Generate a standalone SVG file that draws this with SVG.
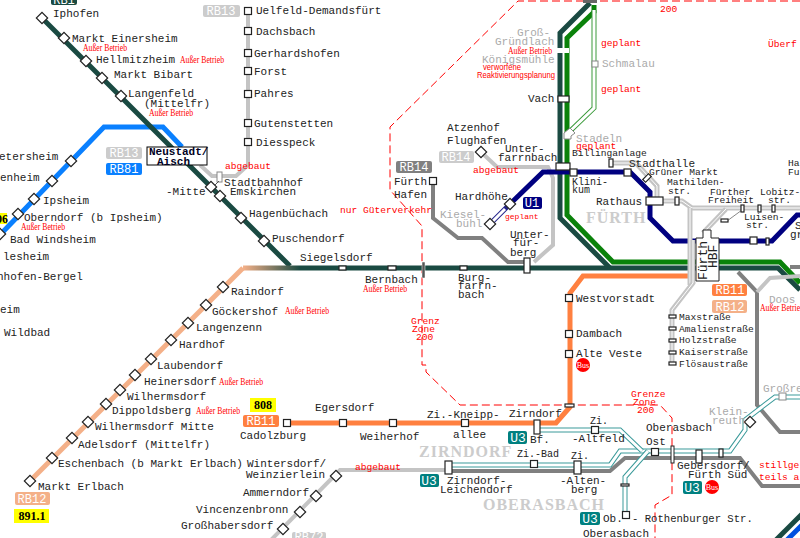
<svg xmlns="http://www.w3.org/2000/svg" width="800" height="538" viewBox="0 0 800 538">
<style>
text{font-family:"Liberation Mono",monospace;font-size:11px;fill:#222}
.s{font-size:9.6px}
.g{fill:#aaa}
.r{fill:#f00;font-size:9.6px}
.a{font-family:"Liberation Serif",serif;font-size:9.5px;fill:#f00}
.sa{font-family:"Liberation Sans",sans-serif;font-size:9px;fill:#f00}
.b{font-family:"Liberation Serif",serif;font-weight:bold;font-size:16px;fill:#ccc;letter-spacing:1px}
.lb{font-family:"Liberation Mono",monospace;font-size:12px;fill:#fff;text-anchor:middle}
.lu{font-family:"Liberation Mono",monospace;font-size:13px;fill:#fff;text-anchor:middle}
.y{font-family:"Liberation Serif",serif;font-weight:bold;font-size:12px;fill:#000;text-anchor:middle}
.bus{font-family:"Liberation Serif",serif;font-size:8px;fill:#fff;text-anchor:middle}
.n{fill:#fff;stroke:#222;stroke-width:1.2}
.ng{fill:#fff;stroke:#888;stroke-width:1}
.l{fill:none;stroke-linejoin:miter}
.dk{stroke:#1a4a42;stroke-width:5}
.gn{stroke:#0a820a;stroke-width:5}
.nv{stroke:#000080;stroke-width:5}
.bl{stroke:#0a80ff;stroke-width:5}
.or{stroke:#ff8040;stroke-width:5}
.lo{stroke:#f4b088;stroke-width:5}
.lg{stroke:#c4c4c4;stroke-width:4}
.lgd{stroke:#c4c4c4;stroke-width:5}
.dg{stroke:#808080;stroke-width:4}
.w{stroke:#fff;stroke-width:1}
.w3{stroke:#fff;stroke-width:3}
.t{stroke:#3a9a9a;stroke-width:5}
.tn{stroke:#3a9a3a;stroke-width:5}
.v{stroke:#22228a;stroke-width:5}
.d{fill:none;stroke:#f00;stroke-width:1;stroke-dasharray:8 4}
</style>
<defs>
<linearGradient id="fade" gradientUnits="userSpaceOnUse" x1="243" x2="300" y1="268" y2="268"><stop offset="0" stop-color="#f4b088"/><stop offset="1" stop-color="#1a4a42"/></linearGradient>
<rect id="d" x="-4" y="-4" width="8" height="8" class="n" transform="rotate(45)"/>
<rect id="s" x="-3.5" y="-3.5" width="7" height="7" class="n"/>
</defs>
<rect width="800" height="538" fill="#fff"/>
<g id="connectors">
<path class="d" d="M800 1H518L390 127V190L422 226V365H426V372L460 405H660L672 418V495L655 505V538"/>
<path class="l lo" d="M30 481L243 268"/>
<path class="l bl" d="M-5 240L104 127H163L182 147"/>
<path class="l lg" d="M248 11V165L236 176H212L200 165"/>
<path class="l dk" d="M42 18L290 266"/>
<path d="M243 268H300" stroke="url(#fade)" stroke-width="5" fill="none"/>
<path class="l dk" d="M300 268H778L800 290"/>
<path class="l dk" d="M590 3L560 33V218L610 268"/>
<path class="l gn" d="M594 5V12L567 38V215L613 262H780L800 283"/>
<path class="l tn" d="M594 10V108L566 135"/><path class="l w3" d="M594 10V108L566 135"/>
<path class="l or" d="M287 423H556L570 407V293L583 276H692"/>
<path class="l dg" d="M433 181V218L458 238H482L508 262H527"/>
<path class="l lg" d="M481 152L497 167H548L553 178V245L534 262"/>
<path class="l v" d="M490 224L510 204"/><path class="l w3" d="M490 224L505 209"/>
<path class="l nv" d="M510 204L543 172H630L650 192V218L673 241H772L797 215H800"/>
<path class="l lgd" d="M611 163H636L657 186V201H682L692 208H800"/><path class="l w" d="M611 163H636L657 186V201H682L692 208H800"/>
<path class="l lgd" d="M726 209L703 233"/><path class="l w" d="M726 209L703 233"/>
<path d="M742 210L727 221" fill="none" stroke="#888" stroke-width="1"/>
<path class="l lgd" d="M690 208V285"/><path class="l w" d="M690 208V285"/>
<path class="l lgd" d="M693 240V283L672 310V364"/><path class="l w" d="M693 240V283L672 310V364"/>
<path class="l dg" d="M738 272L757 292V405L780 432H800"/>
<path class="l lg" d="M800 276L770 278L757 292"/>
<path class="l dg" d="M790 267H800"/>
<path class="l lg" d="M270 541L340 470H447"/>
<path class="l dg" d="M447 471H610L625 458H740L762 486H800"/>
<path class="l t" d="M449 465H610L620 451H730L745 430V420L775 397H800"/><path class="l w3" d="M449 465H610L620 451H730L745 430V420L775 397H800"/>
<path class="l t" d="M537 430H620L642 451"/><path class="l w3" d="M537 430H620L642 451"/>
<path class="l t" d="M648 451L625 477V515"/><path class="l w3" d="M648 451L625 477V515"/>
<path class="l dk" d="M775 541L802 514"/>
<path class="l nv" d="M786 541L802 525" style="stroke:#0050e0"/>
</g>
<g id="stations">
<g id="iphofen"><use href="#d" x="42" y="18"/><text x="53" y="17">Iphofen</text></g>
<g id="einersheim"><use href="#d" x="64" y="38"/><text x="72" y="42">Markt Einersheim</text><text class="a" x="83" y="51" textLength="44" lengthAdjust="spacingAndGlyphs">Außer Betrieb</text></g>
<g id="hellmitzheim"><use href="#d" x="86" y="61"/><text x="96" y="63">Hellmitzheim</text><text class="a" x="180" y="63" textLength="44" lengthAdjust="spacingAndGlyphs">Außer Betrieb</text></g>
<g id="bibart"><use href="#d" x="102" y="78"/><text x="114" y="78">Markt Bibart</text></g>
<g id="langenfeld"><use href="#d" x="121" y="96"/><text x="128" y="97">Langenfeld</text><text x="144" y="107">(Mittelfr)</text><text class="a" x="149" y="116" textLength="44" lengthAdjust="spacingAndGlyphs">Außer Betrieb</text></g>
<g id="neustadt"><rect x="147" y="147" width="60" height="18" fill="#fff" stroke="#000"/><text x="149" y="155" style="font-weight:bold;fill:#002">Neustadt/</text><text x="157" y="165" style="font-weight:bold;fill:#002">Aisch</text></g>
<g id="mitte"><use href="#d" x="211" y="187"/><text x="166" y="195">-Mitte</text></g>
<g id="emskirchen"><use href="#d" x="220" y="196"/><text x="230" y="195">Emskirchen</text></g>
<g id="stadtbf"><rect x="217" y="172" width="5" height="10" class="ng"/><path d="M215 185L219 181" stroke="#555" fill="none"/><text x="224" y="186">Stadtbahnhof</text></g>
<g id="hagen"><use href="#d" x="241" y="218"/><text x="249" y="217">Hagenbüchach</text></g>
<g id="puschen"><use href="#d" x="264" y="241"/><text x="272" y="242">Puschendorf</text></g>
<g id="siegels"><rect x="339" y="266" width="7" height="4" class="n"/><text x="300" y="261">Siegelsdorf</text></g>
<g id="bernbach"><rect x="388" y="266" width="8" height="4" class="n"/><text x="365" y="283">Bernbach</text><text class="a" x="363" y="292" textLength="44" lengthAdjust="spacingAndGlyphs">Außer Betrieb</text></g>
<g id="grenzbar"><rect x="422" y="262" width="3" height="16" fill="#555" stroke="#fff" stroke-width=".5"/></g>
<g id="burg"><rect x="460" y="266" width="7" height="4" class="n"/><text x="458" y="281">Burg-</text><text x="458" y="289">farrn-</text><text x="458" y="298">bach</text></g>
<g id="b13s">
<use href="#s" x="248" y="11"/><text x="256" y="14">Uelfeld-Demandsfürt</text>
<use href="#s" x="248" y="31"/><text x="256" y="35">Dachsbach</text>
<use href="#s" x="248" y="53"/><text x="254" y="57">Gerhardshofen</text>
<use href="#s" x="248" y="71"/><text x="254" y="75">Forst</text>
<use href="#s" x="248" y="94"/><text x="254" y="97">Pahres</text>
<use href="#s" x="248" y="123"/><text x="254" y="127">Gutenstetten</text>
<use href="#s" x="248" y="142"/><text x="256" y="146">Diesspeck</text>
</g>
<g id="blueline">
<use href="#d" x="71" y="161"/><text x="-1" y="160">etersheim</text>
<use href="#d" x="52" y="181"/><text x="0" y="181">enheim</text>
<use href="#d" x="34" y="199"/><text x="43" y="204">Ipsheim</text>
<use href="#d" x="18" y="214"/><text x="24" y="221">Oberndorf (b Ipsheim)</text><text class="a" x="21" y="230" textLength="44" lengthAdjust="spacingAndGlyphs">Außer Betrieb</text>
<use href="#d" x="0" y="234"/><text x="10" y="243">Bad Windsheim</text>
<text x="3" y="260">lesheim</text><text x="-3" y="280">nhofen-Bergel</text><text x="0" y="313">eim</text><text x="4" y="336">Wildbad</text>
</g>
<g id="rb12s">
<use href="#d" x="223" y="287"/><text x="231" y="295">Raindorf</text>
<use href="#d" x="206" y="305"/><text x="212" y="315">Göckershof</text><text class="a" x="285" y="314" textLength="44" lengthAdjust="spacingAndGlyphs">Außer Betrieb</text>
<use href="#d" x="188" y="323"/><text x="196" y="331">Langenzenn</text>
<use href="#d" x="171" y="340"/><text x="179" y="348">Hardhof</text>
<use href="#d" x="151" y="359"/><text x="157" y="369">Laubendorf</text>
<use href="#d" x="135" y="375"/><text x="144" y="385">Heinersdorf</text><text class="a" x="219" y="385" textLength="44" lengthAdjust="spacingAndGlyphs">Außer Betrieb</text>
<use href="#d" x="120" y="390"/><text x="127" y="400">Wilhermsdorf</text>
<use href="#d" x="106" y="404"/><text x="112" y="414">Dippoldsberg</text><text class="a" x="196" y="414" textLength="44" lengthAdjust="spacingAndGlyphs">Außer Betrieb</text>
<use href="#d" x="88" y="422"/><text x="95" y="430">Wilhermsdorf Mitte</text>
<use href="#d" x="72" y="438"/><text x="78" y="448">Adelsdorf (Mittelfr)</text>
<use href="#d" x="52" y="458"/><text x="58" y="467">Eschenbach (b Markt Erlbach)</text>
<use href="#d" x="30" y="481"/><text x="38" y="490">Markt Erlbach</text>
</g>
<g id="rb72s">
<use href="#d" x="336" y="476"/><text x="247" y="467">Wintersdorf/</text><text x="246" y="478">Weinzierlein</text>
<use href="#d" x="316" y="496"/><text x="243" y="496">Ammerndorf</text>
<use href="#d" x="300" y="512"/><text x="196" y="513">Vincenzenbronn</text>
<use href="#d" x="283" y="529"/><text x="181" y="529">Großhabersdorf</text>
<text x="355" y="470" class="r">abgebaut</text>
</g>
<g id="rb11s">
<use href="#s" x="287" y="423"/><text x="240" y="439">Cadolzburg</text>
<use href="#s" x="343" y="423"/><text x="315" y="411">Egersdorf</text>
<use href="#s" x="393" y="423"/><text x="360" y="440">Weiherhof</text>
<use href="#s" x="465" y="423"/><text x="427" y="418">Zi.-Kneipp-</text><text x="453" y="438">allee</text>
<rect x="534" y="420" width="6" height="14" class="n"/><text x="509" y="417">Zirndorf</text><text x="530" y="443">Bf.</text>
<use href="#s" x="569" y="298"/><text x="576" y="302">Westvorstadt</text>
<use href="#s" x="569" y="334"/><text x="576" y="337">Dambach</text>
<use href="#s" x="569" y="354"/><text x="576" y="357">Alte Veste</text>
<rect x="565" y="404" width="9" height="3" class="n"/>
</g>
<g id="u3s">
<rect x="445" y="461" width="7" height="13" class="n"/><text x="447" y="484">Zirndorf-</text><text x="440" y="493">Leichendorf</text>
<use href="#s" x="534" y="464"/><text x="517" y="457" style="font-size:10px">Zi.-Bad</text>
<rect x="574" y="461" width="7" height="13" class="n"/><text x="571" y="459" style="font-size:10px">Zi.</text><text x="560" y="484">-Alten-</text><text x="571" y="493">berg</text>
<use href="#s" x="595" y="430"/><text x="590" y="424" style="font-size:10px">Zi.</text><text x="572" y="442">-Altfeld</text>
<use href="#s" x="655" y="452"/><text x="646" y="431">Oberasbach</text><text x="646" y="445">Ost</text>
<rect x="671" y="446" width="3" height="17" fill="#fff" stroke="#222"/>
<rect x="696" y="450" width="6" height="13" class="n"/><text x="677" y="469">Gebersdorf/</text><text x="688" y="478">Fürth Süd</text>
<rect x="719" y="449" width="4" height="8" class="n"/>
<rect x="621" y="484" width="8" height="2" class="n"/>
<use href="#s" x="626" y="515"/><text x="603" y="522">Ob.</text><text x="632" y="522" style="font-size:10.6px">- Rothenburger Str.</text><text x="583" y="537">Oberasbach</text>
<use href="#d" x="750" y="422"/><text class="g" x="709" y="415">Klein-</text><text class="g" x="712" y="424">reuth</text>
<rect x="779" y="393" width="7" height="7" class="ng"/><text class="g" x="763" y="392">Großre</text>
</g>
<g id="others">
<use href="#d" x="481" y="152"/><text x="447" y="131">Atzenhof</text><text x="447" y="144">Flughafen</text>
<use href="#s" x="433" y="181"/><text x="394" y="185">Fürth</text><text x="394" y="198">Hafen</text>
<text x="505" y="152">Unter-</text><text x="498" y="161">farrnbach</text>
<use href="#d" x="510" y="204"/><text x="455" y="200">Hardhöhe</text>
<use href="#d" x="490" y="224"/><text class="g" x="440" y="218">Kiesel-</text><text class="g" x="456" y="227">bühl</text>
<rect x="524" y="258" width="6" height="15" class="n"/><text x="510" y="238">Unter-</text><text x="513" y="246">für-</text><text x="510" y="256">berg</text>
<rect x="556" y="163" width="14" height="7" class="n"/><rect x="570" y="169" width="7" height="7" class="n"/><text x="572" y="185" style="font-size:10px">Klini-</text><text x="572" y="193" style="font-size:10px">kum</text>
<rect x="557" y="48" width="12" height="5" fill="#fff"/><text class="g" x="517" y="36">Groß-</text><text class="g" x="495" y="45">Gründlach</text><text class="a" x="508" y="54" textLength="44" lengthAdjust="spacingAndGlyphs">Außer Betrieb</text><text class="g" x="482" y="63">Königsmühle</text>
<text class="sa" x="483" y="70" textLength="38" lengthAdjust="spacingAndGlyphs">verworfene</text><text class="sa" x="477" y="78" textLength="78" lengthAdjust="spacingAndGlyphs">Reaktivierungsplanung</text>
<rect x="558" y="96" width="11" height="6" class="n"/><text x="528" y="102">Vach</text>
<rect x="592" y="61" width="6" height="6" class="ng"/><text class="g" x="602" y="67">Schmalau</text>
<path d="M570 128l5 5-4 3v3h-7v-6z" class="ng"/><text class="g" x="576" y="142">Stadeln</text>
<rect x="609" y="159" width="4" height="8" class="n"/><text class="s" x="572" y="156">Billinganlage</text>
<rect x="624" y="169" width="7" height="7" class="n"/><text x="629" y="167">Stadthalle</text>
<rect x="643" y="176" width="8" height="4" class="n" transform="rotate(-45 647 178)"/><text class="s" x="649" y="175">Grüner Markt</text>
<rect x="646" y="197" width="17" height="8" class="n"/><text x="596" y="205">Rathaus</text>
<rect x="675" y="197" width="4" height="8" class="n"/><text class="s" x="667" y="185">Mathilden-</text><text class="s" x="668" y="194">str.</text>
<rect x="741" y="205" width="3" height="7" class="n"/><text class="s" x="710" y="195">Fürther</text><text class="s" x="708" y="203">Freiheit</text>
<rect x="721" y="219" width="7" height="3" class="n"/>
<rect x="758" y="205" width="3" height="7" class="n"/><text class="s" x="760" y="195">Lobitz-</text><text class="s" x="768" y="203">str.</text>
<rect x="772" y="205" width="3" height="7" class="n"/>
<text class="s" x="744" y="220">Luisen-</text><text class="s" x="746" y="228">str.</text>
<rect x="750" y="237" width="7" height="7" class="n"/><rect x="766" y="238" width="3" height="7" class="n"/>
<text x="795" y="229">S</text><text x="790" y="238">gr</text>
<text class="s" x="788" y="166">Ha</text><text class="s" x="788" y="175">Fu</text>
<g id="hbf"><path d="M703 230H711V238H719V281H696V238H703Z" fill="#fff" stroke="#222"/><text transform="translate(707 280) rotate(-90)" style="font-size:13px">Fürth</text><text transform="translate(717 268) rotate(-90)" style="font-size:13px">HBF</text></g>
<rect x="669" y="315" width="7" height="3" class="n"/><text class="s" x="679" y="320">Maxstraße</text>
<rect x="669" y="327" width="7" height="3" class="n"/><text class="s" x="679" y="332">Amalienstraße</text>
<rect x="669" y="339" width="7" height="3" class="n"/><text class="s" x="679" y="343">Holzstraße</text>
<rect x="669" y="351" width="7" height="3" class="n"/><text class="s" x="679" y="355">Kaiserstraße</text>
<rect x="669" y="362" width="7" height="3" class="n"/><text class="s" x="679" y="367">Flösaustraße</text>
<text class="g" x="769" y="303">Doos</text><text class="a" x="760" y="311" textLength="44" lengthAdjust="spacingAndGlyphs">Außer Betrieb</text>
</g>
</g>
<g id="labels">
<rect x="51" y="-5" width="26" height="10" rx="2" fill="#1a4a42"/><text class="lb" x="64" y="4">RB1</text>
<rect x="203" y="5" width="37" height="12" rx="2" fill="#ccc"/><text class="lb" x="221" y="15">RB13</text>
<rect x="106" y="147" width="36" height="12" rx="2" fill="#ccc"/><text class="lb" x="124" y="157">RB13</text>
<rect x="106" y="163" width="36" height="12" rx="2" fill="#0a80ff"/><text class="lb" x="124" y="173">RB81</text>
<rect x="396" y="161" width="36" height="12" rx="2" fill="#808080"/><text class="lb" x="414" y="171">RB14</text>
<rect x="439" y="151" width="35" height="12" rx="2" fill="#ccc"/><text class="lb" x="456" y="161">RB14</text>
<rect x="15" y="492" width="35" height="13" rx="2" fill="#f4b088"/><text class="lb" x="32" y="503">RB12</text>
<rect x="243" y="415" width="36" height="12" rx="2" fill="#ff8040"/><text class="lb" x="261" y="425">RB11</text>
<rect x="712" y="284" width="35" height="12" rx="2" fill="#ff8040"/><text class="lb" x="730" y="294">RB11</text>
<rect x="712" y="300" width="35" height="13" rx="2" fill="#f4b088"/><text class="lb" x="730" y="311">RB12</text>
<rect x="292" y="532" width="34" height="12" rx="2" fill="#ccc"/><text class="lb" x="309" y="541">RB72</text>
<rect x="523" y="197" width="19" height="12" rx="2" fill="#000080"/><text class="lb" x="532" y="207">U1</text>
<rect x="508" y="431" width="19" height="13" rx="2" fill="#008080"/><text class="lu" x="518" y="442">U3</text>
<rect x="420" y="474" width="19" height="13" rx="2" fill="#008080"/><text class="lu" x="429" y="485">U3</text>
<rect x="683" y="481" width="19" height="13" rx="2" fill="#008080"/><text class="lu" x="692" y="492">U3</text>
<rect x="580" y="512" width="20" height="13" rx="2" fill="#008080"/><text class="lu" x="590" y="523">U3</text>
<rect x="0" y="213" width="7" height="11" fill="#ff0"/><text class="y" x="2" y="223">06</text>
<rect x="250" y="398" width="26" height="14" fill="#ff0"/><text class="y" x="263" y="409">808</text>
<rect x="14" y="509" width="35" height="14" fill="#ff0"/><text class="y" x="32" y="520">891.1</text>
<rect x="583" y="0" width="14" height="3" fill="#666"/>
<circle cx="583" cy="365" r="7" fill="#f00"/><text class="bus" x="583" y="368">Bus</text>
<circle cx="712" cy="487" r="7" fill="#f00"/><text class="bus" x="712" y="490">Bus</text>
<text class="b" x="586" y="223">FÜRTH</text>
<text class="b" x="419" y="457">ZIRNDORF</text>
<text class="b" x="483" y="510">OBERASBACH</text>
<text class="r" x="225" y="169">abgebaut</text>
<text class="r" x="340" y="213">nur Güterverkehr</text>
<text class="r" x="473" y="173">abgebaut</text>
<text class="r" x="505" y="219" style="font-size:8px">geplant</text>
<text class="r" x="601" y="46">geplant</text>
<text class="r" x="601" y="92">geplant</text>
<text class="r" x="576" y="149">geplant</text>
<text class="r" x="768" y="47">Überf</text>
<text class="r" x="660" y="12">200</text>
<text class="r" x="411" y="324">Grenz</text><text class="r" x="412" y="332">Zone</text><text class="r" x="416" y="340">200</text>
<text class="r" x="631" y="397">Grenze</text><text class="r" x="633" y="405">Zone</text><text class="r" x="637" y="413">200</text>
<text class="r" x="759" y="468">stillge</text><text class="r" x="759" y="480">teils a</text>
</g>
</svg>
